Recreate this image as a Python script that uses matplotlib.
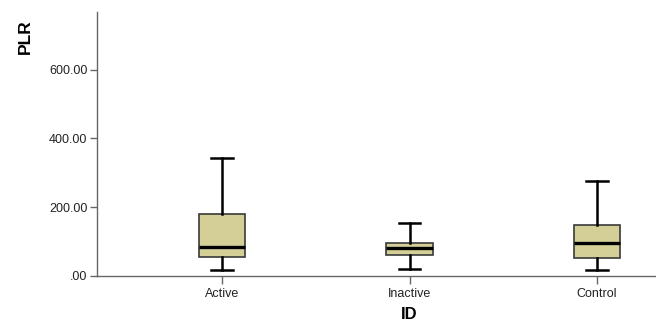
import matplotlib.pyplot as plt

plt.rcParams['font.family'] = ['Liberation Sans', 'DejaVu Sans']

## group summaries for PLR (whisker ends, quartiles, median)
groups = ["Active", "Inactive", "Control"]
whislo = [17.5, 20.0, 17.5]
q1 = [54.0, 60.0, 53.0]
med = [85.0, 81.5, 97.0]
q3 = [180.0, 97.0, 148.0]
whishi = [344.0, 153.0, 276.0]

stats = []
for i in range(len(groups)):
    stats.append(dict(label=groups[i], whislo=whislo[i], q1=q1[i], med=med[i],
                      q3=q3[i], whishi=whishi[i], fliers=[]))

fig = plt.figure(figsize=(6.56, 3.22), dpi=100)
ax = fig.add_axes([0.1479, 0.1429, 0.8521, 0.8198])

ax.bxp(stats, positions=[0, 1, 2], widths=0.25, showfliers=False,
       patch_artist=True, capwidths=0.117,
       boxprops=dict(facecolor="#d3cf97", edgecolor="#3a3a3a", linewidth=1.2),
       medianprops=dict(color="black", linewidth=2.4),
       whiskerprops=dict(color="black", linewidth=1.8),
       capprops=dict(color="black", linewidth=1.8))

ax.set_xlim(-0.667, 2.315)
ax.set_ylim(0, 768)
ax.set_yticks([0, 200, 400, 600])
ax.set_yticklabels([".00", "200.00", "400.00", "600.00"])

for s in ["top", "right"]:
    ax.spines[s].set_visible(False)
for s in ["left", "bottom"]:
    ax.spines[s].set_color("#666666")
    ax.spines[s].set_linewidth(1.0)

ax.tick_params(axis="y", length=5, width=1, color="#666666", labelsize=9, labelcolor="#222222", pad=2)
ax.tick_params(axis="x", length=6, width=1, color="#666666", labelsize=9, labelcolor="#222222", pad=3)

fig.text(0.038, 0.885, "PLR", rotation=90, fontsize=12.5, fontweight="bold", ha="center", va="center")
fig.text(0.624, 0.048, "ID", fontsize=12, fontweight="bold", ha="center", va="top")

fig.savefig("out.png", dpi=100)
